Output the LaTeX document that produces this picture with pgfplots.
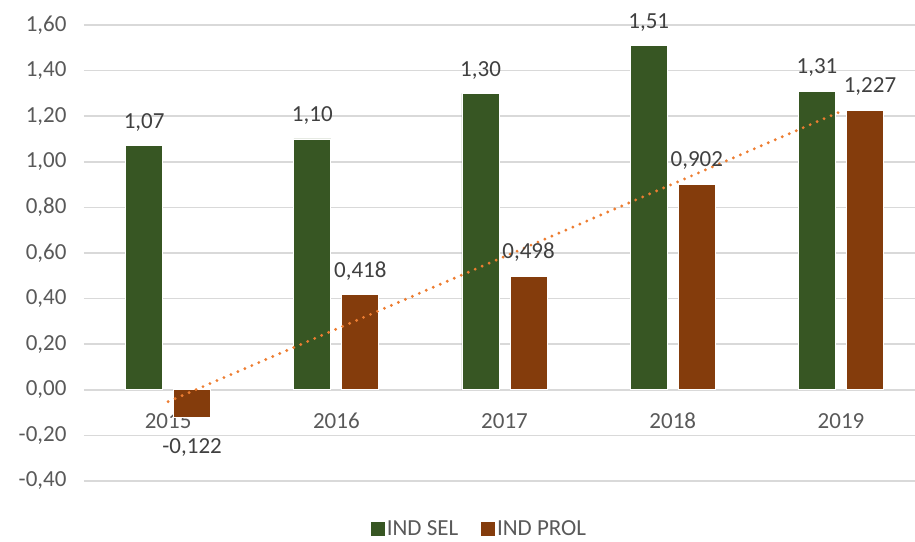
\documentclass[border=0pt]{standalone}
\usepackage{fontspec}
\setmainfont{Carlito}
\usepackage{pgfplots}
\pgfplotsset{compat=1.18}
\definecolor{selgreen}{HTML}{375623}
\definecolor{prolbrown}{HTML}{843C0C}
\definecolor{trend}{HTML}{ED7D31}
\definecolor{gridgray}{HTML}{D9D9D9}
\definecolor{ticktext}{HTML}{595959}
\definecolor{labeltext}{HTML}{404040}
\begin{document}
\begin{tikzpicture}
\begin{axis}[
    scale only axis,
    width=831pt, height=456pt,
    xmin=-0.5, xmax=4.44, ymin=-0.4, ymax=1.6,
    axis line style={draw=none},
    major tick length=0pt,
    ytick={-0.4,-0.2,0,0.2,0.4,0.6,0.8,1.0,1.2,1.4,1.6},
    ymajorgrids, grid style={gridgray, line width=1.5pt},
    xtick={0,1,2,3,4},
    xticklabels={2015,2016,2017,2018,2019},
    /pgf/number format/assume math mode=true,
    yticklabel style={/pgf/number format/fixed, /pgf/number format/fixed zerofill,
        /pgf/number format/precision=2, /pgf/number format/use comma, xshift=-14pt},
    every tick label/.append style={font=\fontsize{23}{27}\selectfont, text=ticktext},
    xticklabel style={anchor=center, yshift=60pt},
    legend style={at={(0.5,0)}, anchor=center, xshift=-20pt, yshift=-48pt, draw=none, fill=none,
        font=\fontsize{23}{27}\selectfont, text=ticktext, legend columns=2,
        /tikz/every even column/.append style={column sep=21pt}},
    legend cell align=left,
]
\addplot[ybar, bar width=0.22, bar shift=-0.143, fill=selgreen, draw=white, line width=0.8pt,
    legend image code/.code={\fill[selgreen] (0pt,-6.5pt) rectangle (13pt,6.5pt);},
    nodes near coords={\pgfmathprintnumber[fixed, fixed zerofill, precision=2, use comma]{\pgfplotspointmeta}},
    every node near coord/.append style={font=\fontsize{23}{27}\selectfont, text=labeltext,
        inner ysep=14pt, xshift=-24pt}]
    coordinates {(0,1.07) (1,1.10) (2,1.30) (3,1.51) (4,1.31)};
\addlegendentry{IND SEL}
\addplot[ybar, bar width=0.22, bar shift=0.143, fill=prolbrown, draw=white, line width=0.8pt,
    legend image code/.code={\fill[prolbrown] (0pt,-6.5pt) rectangle (13pt,6.5pt);},
    visualization depends on={rawy \as \rawy},
    visualization depends on={rawx \as \rawx},
    nodes near coords={\pgfmathprintnumber[fixed, fixed zerofill, precision=3, use comma]{\pgfplotspointmeta}},
    every node near coord/.append style={font=\fontsize{23}{27}\selectfont, text=labeltext, inner ysep=14pt,
        xshift={24 + 5*(\rawx>3.5)}, yshift={(\rawy<0) ? -7 : 0}}]
    coordinates {(0,-0.122) (1,0.418) (2,0.498) (3,0.902) (4,1.227)};
\addlegendentry{IND PROL}
\addplot[forget plot, sharp plot, trend, line width=3.2pt, line cap=round, dash pattern=on 0pt off 7.6pt]
    coordinates {(0,-0.052) (4,1.221)};
\end{axis}
\pgfresetboundingbox
\path ([shift={(-84pt,-60pt)}]current axis.south west) rectangle ([shift={(0pt,25pt)}]current axis.north east);
\end{tikzpicture}
\end{document}
